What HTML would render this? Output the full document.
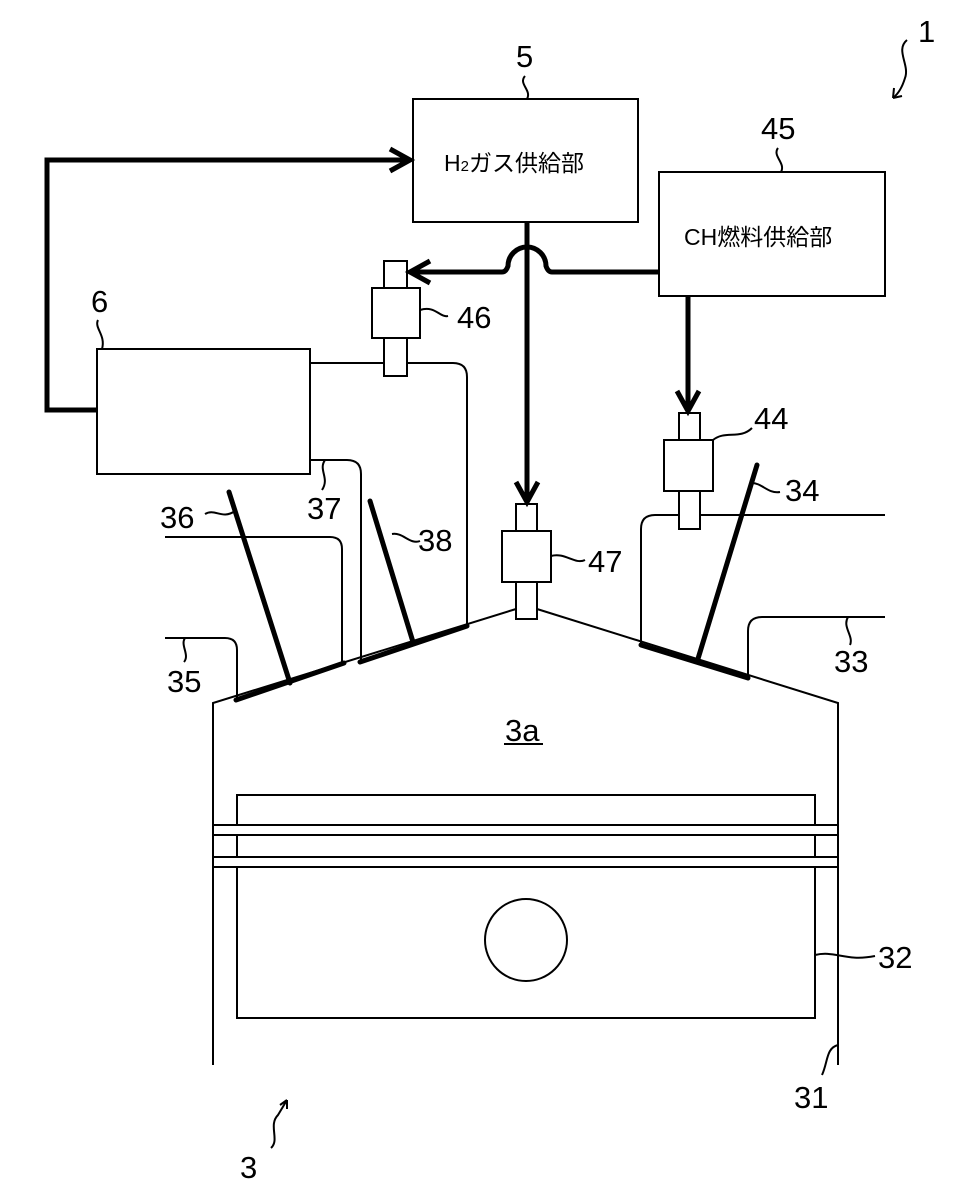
<!DOCTYPE html>
<html><head><meta charset="utf-8"><style>
html,body{margin:0;padding:0;background:#fff}
svg{display:block}
text{font-family:"Liberation Sans","Noto Sans CJK JP",sans-serif;fill:#000}
.n{font-size:31px}
</style></head><body>
<svg width="960" height="1200" viewBox="0 0 960 1200" xmlns="http://www.w3.org/2000/svg">
<g fill="none" stroke="#000" stroke-width="2">
<rect x="413" y="99" width="225" height="123"/>
<rect x="659" y="172" width="226" height="124"/>
<rect x="97" y="349" width="213" height="125"/>
<polyline points="213,1065 213,703 516,609"/>
<polyline points="838,1065 838,703 537,609"/>
<rect x="237" y="795" width="578" height="223"/>
<rect x="213" y="825" width="625" height="10" fill="#fff"/>
<rect x="213" y="857" width="625" height="10" fill="#fff"/>
<circle cx="526" cy="940" r="41"/>
<path d="M165,638 H225 Q237,638 237,650 V700"/>
<path d="M165,537 H330 Q342,537 342,549 V663"/>
<path d="M310,460 H347 Q361,460 361,474 V660"/>
<path d="M310,363 H453 Q467,363 467,377 V626"/>
<path d="M885,515 H655 Q641,515 641,529 V645"/>
<path d="M885,617 H762 Q748,617 748,631 V678"/>
<rect x="384" y="261" width="23" height="27" fill="#fff"/>
<rect x="372" y="288" width="48" height="50" fill="#fff"/>
<rect x="384" y="338" width="23" height="38" fill="#fff"/>
<rect x="516" y="504" width="21" height="27" fill="#fff"/>
<rect x="502" y="531" width="49" height="51" fill="#fff"/>
<rect x="516" y="582" width="21" height="37" fill="#fff"/>
<rect x="679" y="413" width="21" height="27" fill="#fff"/>
<rect x="664" y="440" width="49" height="51" fill="#fff"/>
<rect x="679" y="491" width="21" height="38" fill="#fff"/>
<path d="M907,40 C895,50 910,65 905,78 C902,88 898,94 893,98"/>
<path d="M893,98 L894,88 M893,98 L902,96"/>
<path d="M525,76 C518,84 532,90 527,99"/>
<path d="M778,148 C772,156 786,163 781,172"/>
<path d="M98,320 C94,328 106,335 102,349"/>
<path d="M420,310 C435,305 440,318 448,316"/>
<path d="M713,440 C725,430 740,440 752,428"/>
<path d="M752,483 C762,483 768,494 780,492"/>
<path d="M205,514 C215,508 222,520 235,511"/>
<path d="M325,460 C318,470 330,478 322,490"/>
<path d="M392,534 C403,532 410,545 420,541"/>
<path d="M551,556 C565,552 575,565 585,560"/>
<path d="M185,638 C180,645 190,655 184,662"/>
<path d="M848,617 C842,627 854,636 850,645"/>
<path d="M815,955 C835,950 845,962 875,956"/>
<path d="M838,1045 C826,1048 828,1062 822,1075"/>
<path d="M271,1148 C280,1140 268,1125 278,1115 L287,1100"/>
<path d="M287,1100 L280,1105 M287,1100 L287,1109"/>
</g>
<g fill="none" stroke="#000" stroke-width="5" stroke-linecap="round">
<line x1="236" y1="700" x2="344" y2="663"/>
<line x1="360" y1="662" x2="467" y2="626"/>
<line x1="641" y1="645" x2="748" y2="678"/>
<line x1="229" y1="492" x2="290" y2="683"/>
<line x1="370" y1="501" x2="413" y2="642"/>
<line x1="757" y1="465" x2="697" y2="662"/>
</g>
<g fill="none" stroke="#000" stroke-width="5">
<polyline points="97,410 47,410 47,160 408,160"/>
<polyline points="390,149 410,160 390,171"/>
<path d="M659,272 H552 Q548,272 546,266 A19,19 0 0 0 508,266 Q506,272 502,272 H410"/>
<polyline points="430,261 410,272 430,283"/>
<line x1="527" y1="222" x2="527" y2="502"/>
<polyline points="516,482 527,502 538,482"/>
<line x1="688" y1="296" x2="688" y2="411"/>
<polyline points="677,391 688,411 699,391"/>
</g>
<g class="n">
<text x="918" y="42">1</text>
<text x="516" y="67">5</text>
<text x="761" y="139">45</text>
<text x="91" y="312">6</text>
<text x="457" y="328">46</text>
<text x="754" y="429">44</text>
<text x="785" y="501">34</text>
<text x="160" y="528">36</text>
<text x="307" y="519">37</text>
<text x="418" y="551">38</text>
<text x="588" y="572">47</text>
<text x="167" y="692">35</text>
<text x="834" y="672">33</text>
<text x="505" y="741">3a</text>
<text x="878" y="968">32</text>
<text x="794" y="1108">31</text>
<text x="240" y="1178">3</text>
</g>
<line x1="504" y1="744" x2="543" y2="744" stroke="#000" stroke-width="2"/>
<text x="444" y="171" font-size="23">H<tspan font-size="15">2</tspan>ガス供給部</text>
<text x="684" y="245" font-size="23">CH燃料供給部</text>
</svg>
</body></html>
